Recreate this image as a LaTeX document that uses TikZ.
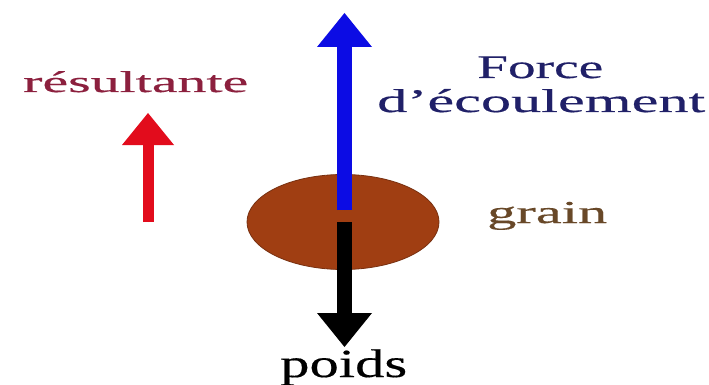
\documentclass[tikz,border=0pt]{standalone}
\usepackage{fontspec}
\setmainfont{Liberation Serif}
\newfontfamily\lblfont[FakeBold=0.35]{Liberation Serif}
\usetikzlibrary{arrows.meta,shapes.geometric}
\definecolor{forceblue}{RGB}{12,12,228}
\definecolor{resred}{RGB}{226,12,28}
\definecolor{grainbrown}{RGB}{160,62,18}
\definecolor{grainedge}{RGB}{120,48,16}
\definecolor{restext}{RGB}{140,32,62}
\definecolor{forcetext}{RGB}{32,32,104}
\definecolor{graintext}{RGB}{104,72,40}
\newcommand{\wtext}[3]{\resizebox{#1pt}{\height}{\lblfont\fontsize{#2}{#2}\selectfont #3}}
\begin{document}
\begin{tikzpicture}[x=1pt,y=-1pt,
  lbl/.style={inner sep=0pt, anchor=base west},
  bigarrow/.style={line width=15pt, line cap=butt,
    -{Triangle[length=34pt,width=55pt,line width=0pt]}},
  smallarrow/.style={line width=11pt, line cap=butt,
    -{Triangle[length=32pt,width=52pt,line width=0pt]}}]
\useasboundingbox (0,0) rectangle (709,385);
\fill[white] (0,0) rectangle (709,385);
% grain body
\node[ellipse, draw=grainedge, line width=0.8pt, fill=grainbrown,
      minimum width=192pt, minimum height=95pt, inner sep=0pt] (body) at (343,222) {};
% arrow end points
\coordinate (bstart) at (344.5,210);
\coordinate (btip) at (344.5,13);
\coordinate (pstart) at (344.5,222);
\coordinate (ptip) at (344.5,347);
\coordinate (rstart) at (148,222);
\coordinate (rtip) at (148,113);
\draw[bigarrow, draw=forceblue, fill=forceblue] (bstart) -- (btip);
\draw[bigarrow, draw=black, fill=black] (pstart) -- (ptip);
\draw[smallarrow, draw=resred, fill=resred] (rstart) -- (rtip);
% labels
\node[lbl, text=restext] (res) at (23,92) {\wtext{225}{30}{résultante}};
\node[lbl, text=forcetext] (force1) at (477,78) {\wtext{126}{33}{Force}};
\node[lbl, text=forcetext] (force2) at (377,112) {\wtext{328}{33}{d’écoulement}};
\node[lbl, text=graintext] (grain) at (487,223) {\wtext{120}{32}{grain}};
\node[lbl, text=black] (poids) at (280,377) {\wtext{127}{40}{poids}};
\end{tikzpicture}
\end{document}
